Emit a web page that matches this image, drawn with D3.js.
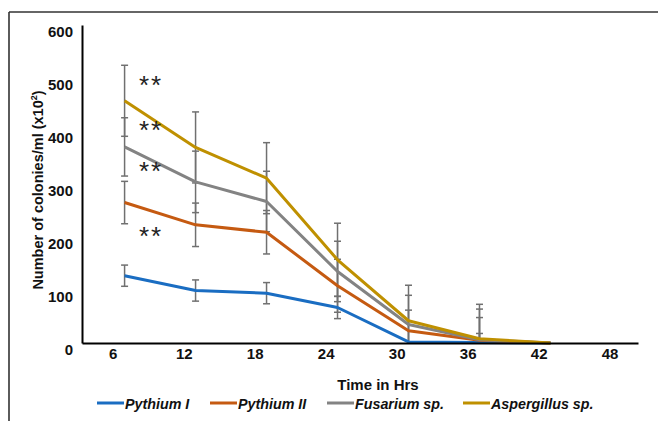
<!DOCTYPE html>
<html>
<head>
<meta charset="utf-8">
<script src="https://cdn.jsdelivr.net/npm/d3@7"></script>
<style>
  html, body { margin: 0; padding: 0; background: #fff; }
  svg { display: block; }
  text { font-family: "Liberation Sans", Arial, sans-serif; }
</style>
</head>
<body>
<div id="chart"></div>
<script>
// ---- data ----
const hours = [7, 13, 19, 25, 31, 37, 43];
const seriesNames = ["Pythium I", "Pythium II", "Fusarium sp.", "Aspergillus sp."];
const pythium1 = [127, 99, 94, 67, 2, 1, 0];
const pythium2 = [265, 223, 209, 108, 23, 5, 0];
const fusarium = [370, 304, 267, 135, 35, 6, 0];
const aspergillus = [457, 369, 311, 157, 42, 8, 0];
const pythium1Err = [20, 20, 20, 21, 0, 17, 0];
const pythium2Err = [40, 41, 41, 50, 39, 43, 0];
const fusariumErr = [55, 58, 57, 57, 55, 58, 0];
const aspergillusErr = [67, 67, 67, 69, 67, 65, 0];
const xTicks = [6, 12, 18, 24, 30, 36, 42, 48];
const yTicks = [0, 100, 200, 300, 400, 500, 600];
const starHour = 8.3;
const starValues = [493, 407, 331, 207];
const colors = ["#1A6DC2", "#C55A11", "#838383", "#BF9000"];

const values = [pythium1, pythium2, fusarium, aspergillus];
const errors = [pythium1Err, pythium2Err, fusariumErr, aspergillusErr];

// ---- layout ----
const W = 658, H = 421;
const svg = d3.select("#chart").append("svg").attr("width", W).attr("height", H);

// outer frame
svg.append("line").attr("x1", 9).attr("x2", W).attr("y1", 12).attr("y2", 12)
  .attr("stroke", "#333").attr("stroke-width", 1.6);
svg.append("line").attr("x1", 9).attr("x2", 9).attr("y1", 12).attr("y2", H)
  .attr("stroke", "#333").attr("stroke-width", 1.6);

const x = d3.scaleLinear().domain([3.4, 50.4]).range([82, 638]);
const y = d3.scaleLinear().domain([0, 600]).range([343, 25]);

// error bars
const eb = svg.append("g");
values.forEach((vals, si) => {
  vals.forEach((v, i) => {
    const e = errors[si][i];
    if (!e) return;
    const cx = x(hours[i]);
    const g = eb.append("g").attr("stroke", "#707070").attr("stroke-width", 1.5);
    g.append("line").attr("x1", cx).attr("x2", cx).attr("y1", y(v + e)).attr("y2", y(Math.max(v - e, 0)));
    g.append("line").attr("x1", cx - 3.5).attr("x2", cx + 3.5).attr("y1", y(v + e)).attr("y2", y(v + e));
    if (v - e > 0)
      g.append("line").attr("x1", cx - 3.5).attr("x2", cx + 3.5).attr("y1", y(v - e)).attr("y2", y(v - e));
  });
});

// lines
const line = d3.line().x((d, i) => x(hours[i])).y(d => y(d));
values.forEach((vals, si) => {
  svg.append("path").datum(vals).attr("d", line)
    .attr("fill", "none").attr("stroke", colors[si]).attr("stroke-width", 3)
    .attr("stroke-linejoin", "round");
});

// axes
const yAxis = svg.append("g").attr("transform", "translate(82,0)")
  .call(d3.axisLeft(y).tickValues(yTicks).tickSize(0).tickPadding(9).tickFormat(d3.format("d")));
yAxis.select(".domain").attr("stroke", "#000").attr("stroke-width", 2);
yAxis.selectAll("text").attr("font-size", 15).attr("font-weight", "bold")
  .attr("fill", "#111").attr("dy", "0.75em")
  .attr("font-family", "Liberation Sans, Arial, sans-serif");

const xAxis = svg.append("g").attr("transform", "translate(0,343)")
  .call(d3.axisBottom(x).tickValues(xTicks).tickSize(0).tickPadding(5).tickFormat(d3.format("d")));
xAxis.select(".domain").attr("stroke", "#000").attr("stroke-width", 2);
xAxis.selectAll("text").attr("font-size", 15).attr("font-weight", "bold")
  .attr("fill", "#111").attr("font-family", "Liberation Sans, Arial, sans-serif");

// stars
svg.append("g").selectAll("text").data(starValues).join("text")
  .attr("x", x(starHour) - 1).attr("y", d => y(d) + 12)
  .attr("font-size", 26).attr("font-family", "DejaVu Sans, sans-serif")
  .attr("letter-spacing", 2)
  .attr("fill", "#222").text("**");

// axis titles
const yt = svg.append("text").attr("transform", "translate(43,190) rotate(-90)")
  .attr("text-anchor", "middle").attr("font-size", 14.5).attr("font-weight", "bold").attr("fill", "#111");
yt.append("tspan").text("Number of colonies/ml (x10");
yt.append("tspan").attr("font-size", 9).attr("dy", -6).text("2");
yt.append("tspan").attr("dy", 6).text(")");

svg.append("text").attr("x", 378).attr("y", 390).attr("text-anchor", "middle")
  .attr("font-size", 15).attr("font-weight", "bold").attr("fill", "#111").text("Time in Hrs");

// legend
const legendX = [97, 210, 327, 463];
const lg = svg.append("g");
seriesNames.forEach((name, i) => {
  const g = lg.append("g").attr("transform", `translate(${legendX[i]},403)`);
  g.append("line").attr("x1", 0).attr("x2", 27).attr("y1", 0).attr("y2", 0)
    .attr("stroke", colors[i]).attr("stroke-width", 3);
  g.append("text").attr("x", 28).attr("y", 5.5).attr("font-size", 14.3)
    .attr("font-weight", "bold").attr("font-style", "italic").attr("fill", "#111").text(name);
});
</script>
</body>
</html>
